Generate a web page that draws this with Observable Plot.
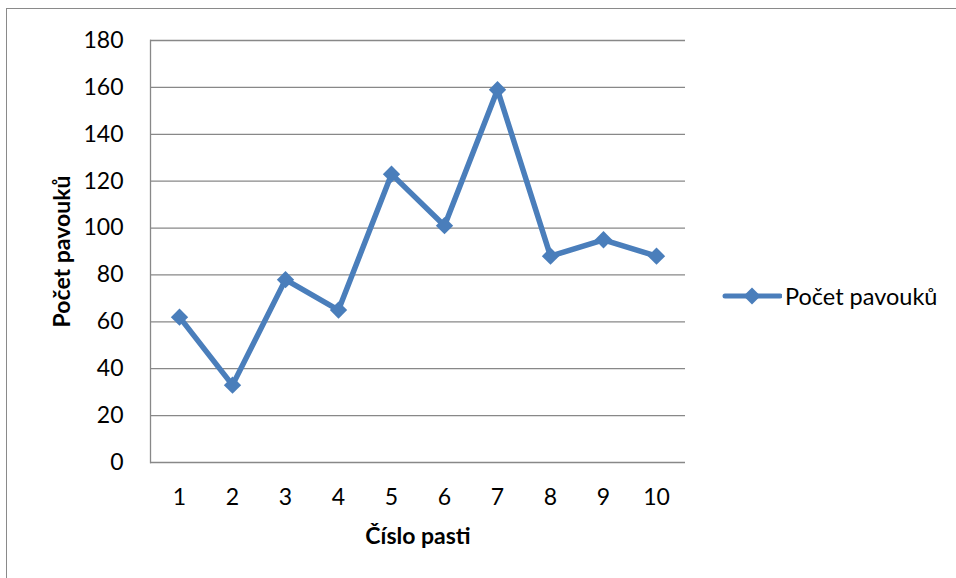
<!DOCTYPE html>
<html><head><meta charset="utf-8">
<script src="https://cdn.jsdelivr.net/npm/d3@7"></script>
<script src="https://cdn.jsdelivr.net/npm/@observablehq/plot@0.6"></script>
<style>
body{margin:0;background:#fff;font-family:Lato,sans-serif;}
#wrap{position:relative;width:956px;height:578px;overflow:hidden;background:#fff;}
#frame{position:absolute;left:6px;top:8px;width:1000px;height:1000px;border-left:1.5px solid #8a8a8a;border-top:1.5px solid #8a8a8a;}
#chart{position:absolute;left:0;top:0;}
#legend{position:absolute;left:722px;top:282px;display:flex;align-items:center;font-family:Lato,sans-serif;font-size:23.5px;color:#000;}
#legend svg{margin-right:3px;}
</style>
</head><body>
<div id="wrap"><div id="frame"></div><div id="chart"></div>
<div id="legend"><svg width="60" height="26"><line x1="3" x2="58" y1="13" y2="13" stroke="#4a7ebb" stroke-width="5" stroke-linecap="round"/><path d="M30 4.5 L38.5 13 L30 21.5 L21.5 13 Z" fill="#4a7ebb"/></svg><span>Počet pavouků</span></div>
</div>
<script>
const traps = ["1","2","3","4","5","6","7","8","9","10"];
const counts = [62,33,78,65,123,101,159,88,95,88];
const yTicks = [0,20,40,60,80,100,120,140,160,180];
const seriesName = "Počet pavouků";
const yTitle = "Počet pavouků";
const xTitle = "Číslo pasti";
const color = "#4a7ebb";

const data = traps.map((t,i)=>({trap:t, count:counts[i]}));

const chart = Plot.plot({
  width: 956, height: 578,
  marginLeft: 150, marginRight: 271, marginTop: 40, marginBottom: 116,
  style: {fontFamily: "Lato, sans-serif", fontSize: "23px", color: "#000", background: "transparent"},
  x: {type: "point", domain: traps, padding: 0.5},
  y: {domain: [0, 180]},
  marks: [
    Plot.gridY(yTicks, {stroke: "#888", strokeOpacity: 1, strokeWidth: 1.3}),
    Plot.frame({anchor: "left", stroke: "#888", strokeWidth: 1.3}),
    Plot.axisY(yTicks, {tickSize: 0, tickPadding: 27, label: null, fontSize: 23}),
    Plot.axisX({tickSize: 0, tickPadding: 26, label: null, fontSize: 23}),
    Plot.line(data, {x: "trap", y: "count", stroke: color, strokeWidth: 5.5}),
    Plot.dot(data, {x: "trap", y: "count", symbol: "diamond2", r: 7.8, fill: color, stroke: null}),
    Plot.text([yTitle], {frameAnchor: "left", dx: -88, rotate: -90, textAnchor: "middle", fontWeight: "bold", fontSize: 23, fill: "#000"}),
    Plot.text([xTitle], {frameAnchor: "bottom", dy: 81, textAnchor: "middle", fontWeight: "bold", fontSize: 23, fill: "#000"})
  ]
});
document.getElementById("chart").appendChild(chart);
</script>
</body></html>
